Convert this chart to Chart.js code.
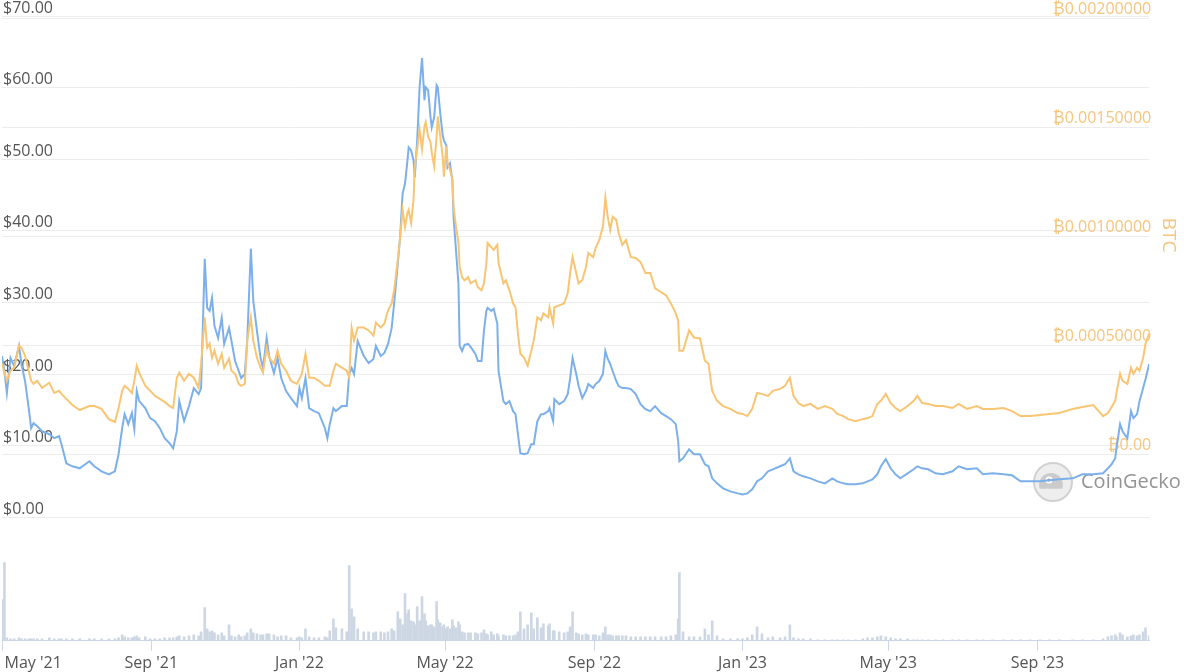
<!DOCTYPE html>
<html>
<head>
<meta charset="utf-8">
<script src="https://cdn.jsdelivr.net/npm/chart.js@4.4.0/dist/chart.umd.min.js"></script>
<style>
  html, body { margin: 0; padding: 0; background: #fff; }
  #wrap { width: 1184px; height: 672px; position: relative; }
</style>
</head>
<body>
<div id="wrap"><canvas id="myChart"></canvas></div>
<script>
// days counted from 1 May 2021
const days = [
  0, 2, 4, 7, 10, 14, 16, 19, 22, 24, 26, 29, 33, 39, 43, 47, 49, 53, 58, 64,
  72, 76, 82, 88, 93, 96, 99, 101, 104, 107, 109, 111, 113, 118, 122, 126, 130, 134, 138, 141,
  144, 146, 150, 154, 158, 162, 164, 167, 169, 171, 173, 175, 178, 181, 183, 187, 189, 192, 195, 197,
  200, 202, 205, 207, 210, 213, 215, 218, 220, 224, 227, 230, 234, 238, 243, 245, 247, 250, 253, 257,
  261, 266, 268, 270, 273, 275, 280, 284, 286, 288, 290, 293, 298, 302, 306, 308, 312, 315, 318, 321,
  323, 326, 328, 330, 332, 334, 335, 337, 339, 340, 342, 344, 346, 348, 349, 351, 353, 354, 356, 358,
  359, 361, 363, 364, 366, 367, 369, 371, 372, 374, 376, 377, 379, 381, 384, 386, 390, 392, 395, 397,
  399, 400, 403, 405, 408, 409, 413, 415, 418, 421, 423, 425, 427, 430, 433, 436, 438, 441, 444, 446,
  450, 451, 454, 455, 459, 463, 466, 468, 470, 473, 475, 478, 481, 483, 487, 489, 492, 495, 497, 499,
  501, 503, 506, 508, 511, 514, 518, 522, 526, 530, 534, 538, 543, 547, 551, 555, 557, 558, 561, 566,
  570, 575, 579, 582, 585, 589, 594, 600, 606, 610, 614, 618, 622, 626, 631, 635, 641, 645, 649, 652,
  656, 660, 666, 672, 678, 684, 688, 693, 697, 703, 709, 713, 717, 721, 724, 728, 732, 736, 740, 746,
  751, 754, 758, 763, 769, 775, 783, 788, 795, 803, 808, 816, 825, 832, 839, 847, 855, 863, 871, 882,
  890, 899, 907, 911, 914, 917, 918, 921, 923, 927, 930, 932, 935, 937, 940, 942, 945
];

// price in USD
const priceUsd = [
  22.54, 20.44, 17.36, 22.26, 21.14, 23.94, 21.42, 19.04, 15.26, 12.46, 13.16, 12.74, 12.04, 11.62, 11.06, 11.34, 10.22, 7.56, 7.14, 6.86,
  7.84, 7.14, 6.44, 6.02, 6.44, 8.82, 12.46, 14.42, 13.02, 14.56, 12.32, 17.64, 16.24, 15.26, 13.86, 13.44, 12.46, 11.06, 10.36, 9.66,
  12.04, 16.24, 13.44, 15.54, 18.06, 17.22, 18.06, 36.12, 29.26, 28.84, 30.66, 26.74, 25.06, 27.86, 24.22, 26.46, 24.64, 21.84, 20.44, 19.46,
  20.02, 24.64, 37.52, 30.24, 26.04, 22.26, 20.86, 25.06, 22.54, 20.16, 22.26, 19.46, 17.64, 16.66, 15.54, 18.06, 16.66, 19.46, 15.26, 14.84,
  14.56, 12.46, 11.06, 13.02, 15.26, 14.84, 15.54, 15.54, 20.02, 20.86, 20.02, 24.64, 22.54, 21.56, 22.12, 23.94, 22.54, 22.96, 24.22, 26.46,
  29.82, 35.42, 39.34, 45.22, 46.62, 49.84, 51.66, 51.24, 49.84, 47.46, 52.64, 60.06, 64.12, 58.24, 60.06, 59.64, 55.86, 54.46, 55.86, 60.34,
  60.06, 56.42, 53.34, 52.64, 51.94, 48.86, 49.42, 47.04, 41.86, 37.24, 32.62, 23.94, 23.24, 24.08, 24.22, 23.80, 22.82, 21.84, 21.84, 26.04,
  28.84, 29.26, 28.84, 29.12, 27.02, 20.44, 16.24, 15.82, 16.24, 14.84, 14.42, 11.62, 8.96, 8.82, 8.96, 10.22, 10.22, 13.44, 14.42, 14.42,
  14.84, 15.26, 13.44, 16.52, 15.82, 16.24, 17.22, 19.46, 22.26, 20.02, 18.34, 16.66, 17.64, 18.62, 18.06, 18.62, 19.04, 20.02, 23.24, 22.12,
  21.42, 20.44, 19.04, 18.34, 18.06, 18.06, 17.92, 17.22, 15.82, 15.12, 14.84, 15.54, 14.56, 14.14, 13.72, 13.02, 10.64, 7.84, 8.26, 9.52,
  8.82, 8.82, 7.42, 7.14, 5.46, 4.76, 4.06, 3.64, 3.36, 3.22, 3.36, 3.92, 5.04, 5.46, 6.44, 6.72, 7.14, 7.42, 8.26, 6.44,
  6.02, 5.74, 5.46, 5.04, 4.76, 5.46, 5.04, 4.76, 4.62, 4.62, 4.76, 5.04, 5.32, 6.02, 7.14, 8.12, 6.86, 6.02, 5.46, 6.16,
  6.72, 7.14, 6.86, 6.72, 6.16, 6.02, 6.44, 7.14, 6.72, 6.86, 6.02, 6.16, 6.02, 5.88, 5.04, 5.04, 5.04, 5.18, 5.32, 5.46,
  6.02, 6.02, 6.16, 6.86, 7.42, 8.26, 9.66, 13.02, 12.04, 11.06, 14.84, 13.86, 14.42, 16.24, 18.06, 19.32, 21.42
];

// price in BTC
const priceBtc = [
  0.000415, 0.000374, 0.000337, 0.000383, 0.000397, 0.000498, 0.000489, 0.000452, 0.000383, 0.000337, 0.000323, 0.000337, 0.000305, 0.000328, 0.000281, 0.000291, 0.000277, 0.000254, 0.000226, 0.000203,
  0.000221, 0.000221, 0.000208, 0.000161, 0.000148, 0.000212, 0.000291, 0.000314, 0.000300, 0.000281, 0.000337, 0.000406, 0.000374, 0.000314, 0.000291, 0.000268, 0.000254, 0.000240, 0.000221, 0.000212,
  0.000351, 0.000374, 0.000337, 0.000369, 0.000351, 0.000305, 0.000415, 0.000628, 0.000489, 0.000508, 0.000443, 0.000475, 0.000415, 0.000461, 0.000397, 0.000438, 0.000383, 0.000369, 0.000323, 0.000314,
  0.000323, 0.000521, 0.000628, 0.000521, 0.000443, 0.000397, 0.000374, 0.000489, 0.000443, 0.000415, 0.000475, 0.000415, 0.000383, 0.000337, 0.000323, 0.000346, 0.000369, 0.000461, 0.000351, 0.000351,
  0.000337, 0.000314, 0.000314, 0.000314, 0.000383, 0.000415, 0.000397, 0.000383, 0.000351, 0.000581, 0.000521, 0.000581, 0.000581, 0.000568, 0.000544, 0.000604, 0.000581, 0.000600, 0.000660, 0.000692,
  0.000752, 0.000891, 0.000997, 0.001121, 0.001043, 0.001107, 0.001121, 0.001061, 0.001167, 0.001320, 0.001398, 0.001490, 0.001398, 0.001504, 0.001523, 0.001458, 0.001430, 0.001384, 0.001320, 0.001458,
  0.001550, 0.001458, 0.001366, 0.001273, 0.001412, 0.001338, 0.001306, 0.001260, 0.001135, 0.001043, 0.000969, 0.000858, 0.000812, 0.000798, 0.000812, 0.000784, 0.000798, 0.000766, 0.000752, 0.000784,
  0.000877, 0.000969, 0.000950, 0.000937, 0.000960, 0.000877, 0.000784, 0.000798, 0.000752, 0.000692, 0.000674, 0.000554, 0.000461, 0.000443, 0.000406, 0.000475, 0.000521, 0.000628, 0.000614, 0.000646,
  0.000628, 0.000674, 0.000600, 0.000674, 0.000683, 0.000692, 0.000738, 0.000831, 0.000904, 0.000831, 0.000784, 0.000798, 0.000858, 0.000923, 0.000904, 0.000946, 0.000983, 0.001043, 0.001177, 0.001089,
  0.001029, 0.001089, 0.001075, 0.001015, 0.000960, 0.000983, 0.000904, 0.000900, 0.000881, 0.000831, 0.000831, 0.000761, 0.000743, 0.000729, 0.000692, 0.000646, 0.000614, 0.000475, 0.000475, 0.000568,
  0.000535, 0.000531, 0.000429, 0.000415, 0.000291, 0.000245, 0.000221, 0.000208, 0.000189, 0.000185, 0.000175, 0.000208, 0.000281, 0.000277, 0.000268, 0.000291, 0.000300, 0.000314, 0.000351, 0.000268,
  0.000235, 0.000221, 0.000231, 0.000208, 0.000221, 0.000208, 0.000185, 0.000175, 0.000161, 0.000152, 0.000161, 0.000166, 0.000175, 0.000231, 0.000245, 0.000277, 0.000235, 0.000212, 0.000198, 0.000221,
  0.000245, 0.000268, 0.000235, 0.000231, 0.000221, 0.000221, 0.000212, 0.000231, 0.000208, 0.000221, 0.000208, 0.000208, 0.000212, 0.000198, 0.000175, 0.000175, 0.000180, 0.000185, 0.000189, 0.000208,
  0.000217, 0.000226, 0.000175, 0.000189, 0.000217, 0.000245, 0.000281, 0.000369, 0.000337, 0.000323, 0.000397, 0.000369, 0.000397, 0.000383, 0.000443, 0.000508, 0.000554
];

// traded volume (USD millions)
const volume = [
  4.1, 7.8, 0.3, 0.2, 0.2, 0.3, 0.2, 0.2, 0.2, 0.2, 0.2, 0.2, 0.2, 0.3, 0.2, 0.2, 0.2, 0.2, 0.2, 0.2,
  0.2, 0.2, 0.2, 0.2, 0.2, 0.3, 0.6, 0.4, 0.3, 0.3, 0.4, 0.5, 0.3, 0.4, 0.2, 0.2, 0.2, 0.3, 0.3, 0.3,
  0.4, 0.5, 0.4, 0.5, 0.6, 0.5, 0.9, 3.3, 1.2, 0.9, 1.0, 0.8, 0.6, 0.8, 0.5, 1.6, 0.5, 0.4, 0.6, 0.4,
  0.5, 0.8, 1.2, 0.8, 0.7, 0.6, 0.6, 0.7, 0.7, 0.6, 0.4, 0.5, 0.5, 0.3, 0.3, 0.4, 0.3, 1.2, 0.4, 0.3,
  0.3, 0.4, 0.3, 1.0, 2.2, 1.3, 1.2, 0.9, 7.5, 3.2, 2.4, 1.2, 0.9, 0.9, 0.8, 0.9, 0.9, 0.8, 0.9, 1.2,
  1.0, 2.9, 2.2, 1.6, 4.7, 2.7, 3.1, 2.0, 1.9, 1.6, 3.4, 2.0, 4.4, 2.7, 2.0, 1.5, 1.6, 1.6, 1.4, 3.9,
  2.1, 1.8, 1.4, 1.6, 1.2, 1.4, 1.2, 2.1, 1.5, 1.3, 1.9, 1.6, 0.9, 0.8, 0.8, 0.8, 0.8, 0.7, 0.8, 1.1,
  0.7, 0.6, 0.9, 0.6, 0.7, 0.5, 0.6, 0.5, 0.5, 0.5, 0.6, 0.9, 2.9, 1.2, 1.6, 2.8, 1.2, 2.3, 1.3, 1.7,
  1.5, 1.7, 1.0, 1.0, 0.9, 0.8, 0.9, 1.4, 2.9, 0.8, 0.7, 0.6, 0.7, 0.6, 0.6, 0.6, 0.5, 0.8, 1.4, 0.6,
  0.6, 0.5, 0.5, 0.5, 0.5, 0.5, 0.4, 0.4, 0.4, 0.4, 0.4, 0.4, 0.4, 0.4, 0.5, 0.6, 2.2, 6.8, 0.9, 0.4,
  0.4, 0.4, 1.2, 0.6, 2.0, 0.5, 0.2, 0.2, 0.2, 0.2, 0.3, 0.6, 1.4, 0.7, 0.3, 0.4, 0.3, 0.4, 1.6, 0.3,
  0.2, 0.2, 0.2, 0.1, 0.1, 0.1, 0.1, 0.1, 0.1, 0.1, 0.2, 0.3, 0.3, 0.4, 0.5, 0.4, 0.3, 0.2, 0.2, 0.2,
  0.1, 0.1, 0.1, 0.1, 0.1, 0.1, 0.1, 0.1, 0.1, 0.1, 0.1, 0.1, 0.1, 0.1, 0.1, 0.1, 0.1, 0.1, 0.1, 0.1,
  0.1, 0.1, 0.2, 0.4, 0.5, 0.6, 0.4, 0.8, 0.6, 0.4, 0.5, 0.6, 0.5, 0.6, 0.9, 1.3, 0.5
];

// x axis: month starts (days from 1 May 2021)
const tickDays = [0, 123, 245, 365, 488, 610, 730, 853];
const tickLabels = ["May '21", "Sep '21", "Jan '22", "May '22", "Sep '22", "Jan '23", "May '23", "Sep '23"];
const usdTicks = [0, 10, 20, 30, 40, 50, 60, 70];
const btcTicks = [0, 0.0005, 0.001, 0.0015, 0.002];

const toPoints = (ys) => days.map((d, i) => ({ x: d, y: ys[i] }));

Chart.defaults.font.family = '"Open Sans", "DejaVu Sans", sans-serif';
Chart.defaults.font.size = 16;

// CoinGecko mark behind the lines
const watermark = {
  id: "watermark",
  beforeDatasetsDraw(chart) {
    const c = chart.ctx;
    const cx = 1053, cy = 482;
    c.save();
    c.beginPath();
    c.arc(cx, cy, 19, 0, Math.PI * 2);
    c.fillStyle = "rgba(235,235,235,0.85)";
    c.fill();
    c.lineWidth = 2;
    c.strokeStyle = "rgba(205,205,205,0.9)";
    c.stroke();
    c.beginPath();
    c.arc(cx - 2, cy + 3, 12, Math.PI * 0.9, Math.PI * 2.1);
    c.fillStyle = "rgba(200,200,200,0.9)";
    c.fill();
    c.beginPath();
    c.arc(cx - 4, cy - 2, 3.5, 0, Math.PI * 2);
    c.fillStyle = "#fff";
    c.fill();
    c.beginPath();
    c.arc(cx - 4, cy - 2, 1.6, 0, Math.PI * 2);
    c.fillStyle = "#8a8a8a";
    c.fill();
    c.font = '20px "Open Sans", sans-serif';
    c.fillStyle = "#949494";
    c.textBaseline = "middle";
    c.fillText("CoinGecko", 1081, cy);
    c.restore();
  },
};

const ctx = document.getElementById("myChart");
const myChart = new Chart(ctx, {
  type: "line",
  data: {
    datasets: [
      {
        label: "BTC",
        data: toPoints(priceBtc),
        yAxisID: "yBtc",
        borderColor: "#f9c573",
        borderWidth: 2,
        pointRadius: 0,
        order: 0,
      },
      {
        label: "USD",
        data: toPoints(priceUsd),
        yAxisID: "yUsd",
        borderColor: "#7cb0ea",
        borderWidth: 2,
        pointRadius: 0,
        order: 1,
      },
      {
        type: "bar",
        label: "Volume",
        data: toPoints(volume),
        yAxisID: "yVol",
        backgroundColor: "#cdd7e3",
        barThickness: 2,
        order: 2,
      },
    ],
  },
  plugins: [watermark],
  options: {
    responsive: true,
    maintainAspectRatio: false,
    animation: false,
    layout: { padding: { top: 16, right: 0, bottom: -4, left: 0 } },
    plugins: {
      legend: { display: false },
      tooltip: { enabled: false },
    },
    scales: {
      x: {
        type: "linear",
        min: 0,
        max: 945,
        offset: false,
        afterBuildTicks: (scale) => {
          scale.ticks = tickDays.map((v) => ({ value: v }));
        },
        afterFit: (scale) => {
          scale.paddingLeft = 0;
          scale.paddingRight = 0;
        },
        ticks: {
          autoSkip: false,
          maxRotation: 0,
          padding: 3,
          color: "#555",
          // first label is pushed right so it starts at the left edge
          callback: (v, i) => (i === 0 ? " ".repeat(15) + tickLabels[i] : tickLabels[i]),
        },
        grid: { offset: false, drawOnChartArea: false, drawTicks: true, tickLength: 10, color: "#ccd6eb" },
        border: { display: true, color: "#ccd6eb" },
      },
      yUsd: {
        position: "left",
        min: -17.22,
        max: 70,
        afterBuildTicks: (scale) => {
          scale.ticks = usdTicks.map((v) => ({ value: v }));
        },
        ticks: {
          mirror: true,
          padding: 1,
          labelOffset: -8,
          color: "#555",
          callback: (v) => "$" + v.toFixed(2),
        },
        grid: { color: "#ececec", drawTicks: false },
        border: { display: false },
      },
      yBtc: {
        position: "right",
        stack: "right",
        stackWeight: 437,
        min: 0,
        max: 0.00201,
        afterBuildTicks: (scale) => {
          scale.ticks = btcTicks.map((v) => ({ value: v }));
        },
        ticks: {
          mirror: true,
          padding: 2,
          labelOffset: -9,
          color: "#f6c57e",
          callback: (v) => (v === 0 ? "₿0.00" : "₿" + v.toFixed(8)),
        },
        grid: { color: "#ececec", drawTicks: false },
        border: { display: false },
        title: { display: true, text: "BTC", color: "#f6c57e", font: { size: 19 }, padding: 4 },
      },
      yVol: {
        position: "right",
        stack: "right",
        stackWeight: 186,
        min: 0,
        max: 18.6,
        ticks: { display: false },
        grid: { display: false, drawTicks: false },
        border: { display: false },
      },
    },
  },
});
</script>
</body>
</html>
